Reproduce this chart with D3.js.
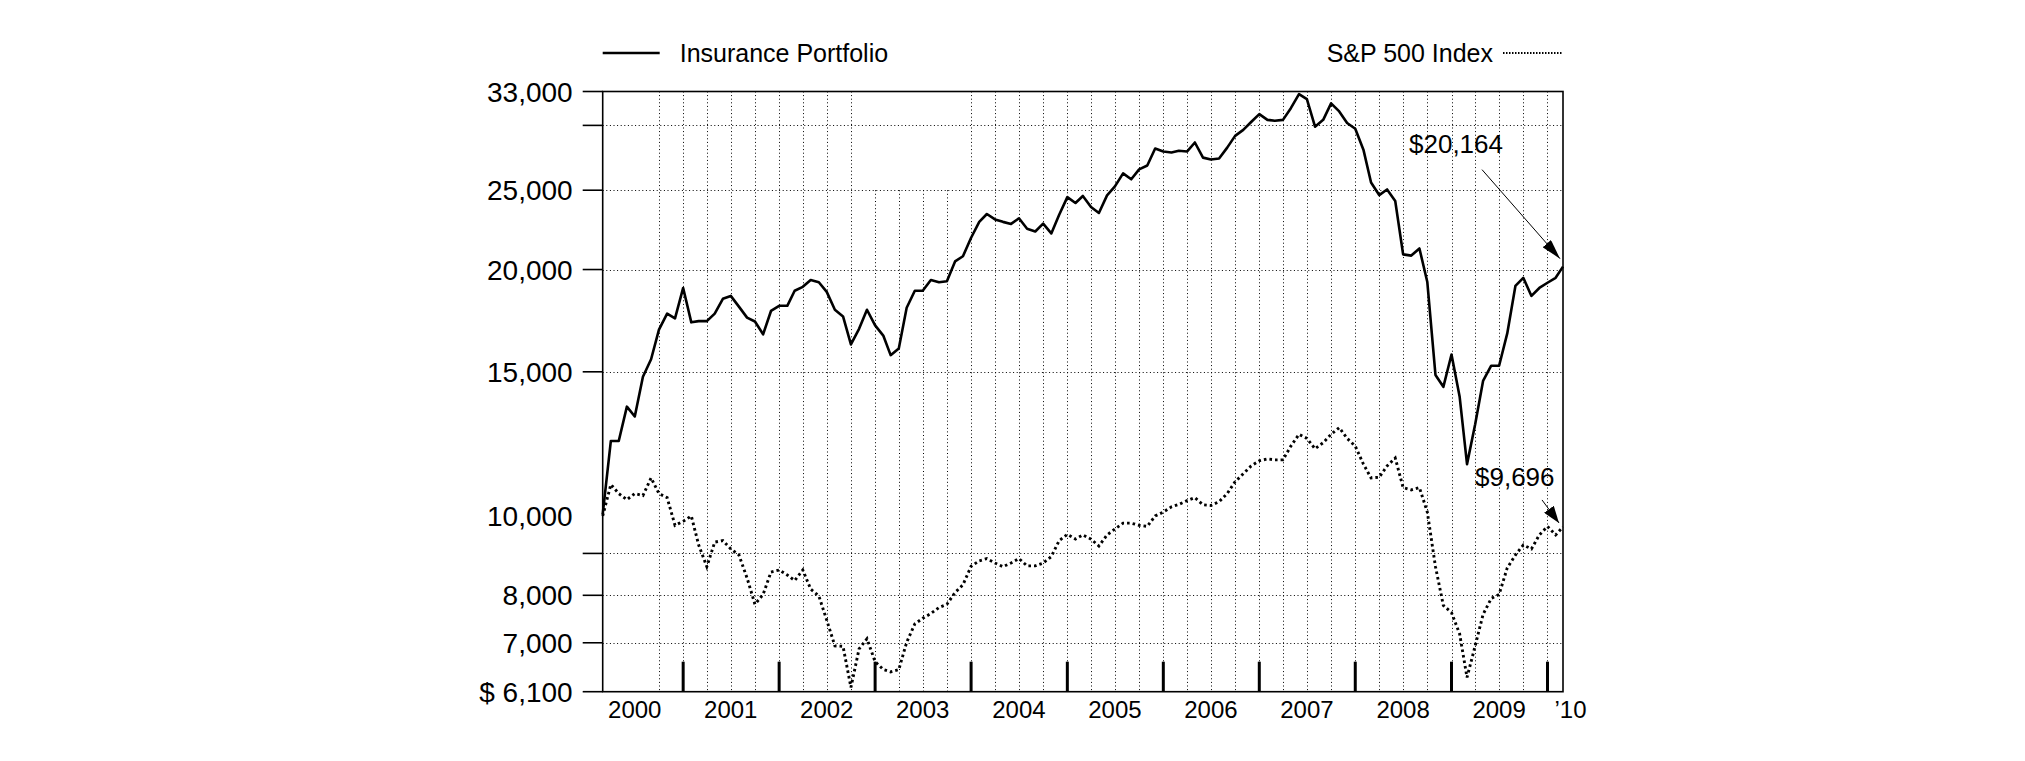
<!DOCTYPE html>
<html><head><meta charset="utf-8">
<script src="https://cdn.jsdelivr.net/npm/d3@7"></script>
<style>
html,body{margin:0;padding:0;background:#fff;}
svg{display:block;}
text{font-family:"Liberation Sans",Arial,Helvetica,sans-serif;fill:#000;}
</style>
</head><body>
<svg id="chart" width="2025" height="761"></svg>
<script>
// ---------------- DATA ----------------
// month-end values, first point = initial $10,000 (end of Feb 2000), last = end of Feb 2010
const startMonth = "2000-03-01";
const insurance = [
 10050,12350,12350,13600,13230,14790,15540,16890,17670,17430,
 18990,17240,17300,17300,17670,18420,18570,18020,17470,17280,
 16670,17800,18060,18060,18840,19050,19420,19300,18780,17860,
 17530,16200,16930,17860,17090,16610,15720,16020,17960,18840,
 18840,19420,19300,19350,20460,20760,21870,22870,23380,23030,
 22870,22740,23100,22430,22260,22760,22140,23330,24520,24120,
 24600,23850,23450,24640,25270,26210,25780,26510,26800,28110,
 27870,27800,27940,27870,28590,27400,27250,27330,28180,29130,
 29620,30290,30970,30470,30400,30470,31490,32760,32300,29890,
 30470,31920,31200,30200,29720,28020,25550,24660,25050,24250,
 20870,20800,21220,19310,14870,14380,15750,13980,11570,12940,
 14620,15260,15260,16710,19100,19540,18570,18990,19270,19540,
 20164];
const sp500 = [
 10000,10925,10650,10470,10650,10590,11130,10650,10530,9740,
 9850,10000,9215,8670,9290,9330,9115,8960,8400,7800,
 8020,8540,8590,8470,8340,8590,8140,7985,7460,6940,
 6930,6175,6880,7080,6637,6493,6450,6490,7010,7380,
 7500,7600,7730,7800,8063,8240,8680,8815,8870,8760,
 8670,8760,8870,8690,8690,8760,8920,9330,9495,9370,
 9480,9370,9190,9480,9640,9800,9800,9740,9710,10000,
 10110,10260,10330,10440,10530,10320,10300,10410,10650,11010,
 11260,11510,11680,11740,11710,11710,12170,12580,12440,12080,
 12290,12580,12820,12440,12170,11570,11130,11150,11510,11770,
 10830,10760,10830,10110,8670,7775,7620,7175,6350,6940,
 7580,7930,8020,8640,8960,9215,9115,9480,9710,9480,
 9696];
const seriesNames = ["Insurance Portfolio", "S&P 500 Index"];
const endValueLabels = ["$20,164", "$9,696"];
const yDomain = [6100, 33000];
const yTickValues = [33000, 30000, 25000, 20000, 15000, 9000, 8000, 7000, 6100];
const yGridValues = [30000, 25000, 20000, 15000, 9000, 8000, 7000];
const yLabelValues = [33000, 25000, 20000, 15000, 10000, 8000, 7000, 6100];
const yearLabels = ["2000","2001","2002","2003","2004","2005","2006","2007","2008","2009"];
const endYearLabel = "\u201910";

// ---------------- LAYOUT ----------------
const L = 602.7, R = 1563, T = 91.5, B = 691.7;
const svg = d3.select("#chart");

const start = new Date(startMonth + "T00:00:00Z");
const dates = insurance.map((_, i) => d3.utcMonth.offset(start, i));
const x = d3.scaleUtc().domain([dates[0], dates[dates.length - 1]]).range([L, R]);
const y = d3.scaleLog().domain(yDomain).range([B, T]);

const gridStyle = g => g.attr("stroke", "#000").attr("stroke-width", 1).attr("stroke-dasharray", "1,2.6");

// horizontal dotted gridlines
svg.append("g").call(gridStyle).selectAll("line").data(yGridValues).join("line")
  .attr("x1", L).attr("x2", R)
  .attr("y1", d => Math.round(y(d)) + 0.5).attr("y2", d => Math.round(y(d)) + 0.5);

// vertical quarterly dotted gridlines
const quarters = d3.utcMonths(new Date(Date.UTC(2000, 9, 1)), new Date(Date.UTC(2010, 0, 2)), 3);
const gapFrom = new Date(Date.UTC(2003, 0, 1)), gapTo = new Date(Date.UTC(2003, 9, 2));
svg.append("g").call(gridStyle).selectAll("line").data(quarters).join("line")
  .attr("x1", d => Math.round(x(d)) + 0.5).attr("x2", d => Math.round(x(d)) + 0.5)
  .attr("y1", d => (d >= gapFrom && d <= gapTo) ? y(25000) : T)
  .attr("y2", B);

// y axis ticks (outward)
svg.append("g").selectAll("line").data(yTickValues).join("line")
  .attr("x1", L - 20).attr("x2", L)
  .attr("y1", d => y(d)).attr("y2", d => y(d))
  .attr("stroke", "#000").attr("stroke-width", 1.6);

// y labels
const fmt = d3.format(",");
svg.append("g").selectAll("text").data(yLabelValues).join("text")
  .attr("x", L - 30).attr("y", d => y(d)).attr("dy", "0.36em")
  .attr("text-anchor", "end").attr("font-size", 28)
  .text(d => d === yDomain[0] ? "$ " + fmt(d) : fmt(d));

// year ticks (thick, inward from bottom)
const yearTicks = d3.utcYears(new Date(Date.UTC(2001, 0, 1)), new Date(Date.UTC(2010, 0, 2)));
svg.append("g").selectAll("line").data(yearTicks).join("line")
  .attr("x1", d => x(d)).attr("x2", d => x(d))
  .attr("y1", B).attr("y2", B - 30)
  .attr("stroke", "#000").attr("stroke-width", 3);

// year labels, centred mid-year
svg.append("g").selectAll("text").data(yearLabels).join("text")
  .attr("x", d => x(new Date(Date.UTC(+d, 6, 1))))
  .attr("y", 718).attr("text-anchor", "middle").attr("font-size", 24)
  .text(d => d);
svg.append("text").attr("x", x(new Date(Date.UTC(2010, 0, 1))) + 7).attr("y", 718)
  .attr("font-size", 24).text(endYearLabel);

// series lines
const line = d3.line().x((d, i) => x(dates[i])).y(d => y(d));
svg.append("path").datum(sp500).attr("d", line)
  .attr("fill", "none").attr("stroke", "#000").attr("stroke-width", 2.9)
  .attr("stroke-dasharray", "2.6,3");
svg.append("path").datum(insurance).attr("d", line)
  .attr("fill", "none").attr("stroke", "#000").attr("stroke-width", 2.6)
  .attr("stroke-linejoin", "round");

// frame
svg.append("rect").attr("x", L).attr("y", T).attr("width", R - L).attr("height", B - T)
  .attr("fill", "none").attr("stroke", "#000").attr("stroke-width", 1.6);

// legend
svg.append("line").attr("x1", L).attr("x2", L + 57).attr("y1", 53).attr("y2", 53)
  .attr("stroke", "#000").attr("stroke-width", 2.4);
svg.append("text").attr("x", L + 77).attr("y", 62).attr("font-size", 25).text(seriesNames[0]);
svg.append("text").attr("x", R - 70).attr("y", 62).attr("text-anchor", "end").attr("font-size", 25).text(seriesNames[1]);
svg.append("line").attr("x1", R - 60).attr("x2", R).attr("y1", 53).attr("y2", 53)
  .attr("stroke", "#000").attr("stroke-width", 2).attr("stroke-dasharray", "1.5,1.5");

// end-value annotations with arrows
const defs = svg.append("defs");
function head(id, w, h) {
  defs.append("marker").attr("id", id).attr("viewBox", `0 0 ${w} ${h}`)
    .attr("refX", w).attr("refY", h / 2).attr("markerWidth", w).attr("markerHeight", h)
    .attr("markerUnits", "userSpaceOnUse").attr("orient", "auto")
    .append("path").attr("d", `M0,0L${w},${h/2}L0,${h}Z`).attr("fill", "#000");
}
head("ah1", 20, 11);
head("ah2", 17, 12);
const lastX = x(dates[dates.length - 1]);
const yIns = y(insurance[insurance.length - 1]);
const ySp = y(sp500[sp500.length - 1]);

svg.append("text").attr("x", lastX - 154).attr("y", yIns - 114).attr("font-size", 26).text(endValueLabels[0]);
svg.append("line").attr("x1", lastX - 81).attr("y1", yIns - 97).attr("x2", lastX - 3).attr("y2", yIns - 8)
  .attr("stroke", "#000").attr("stroke-width", 1).attr("marker-end", "url(#ah1)");

svg.append("text").attr("x", lastX - 88).attr("y", ySp - 41).attr("font-size", 26).text(endValueLabels[1]);
svg.append("line").attr("x1", lastX - 21).attr("y1", ySp - 27).attr("x2", lastX - 4).attr("y2", ySp - 4)
  .attr("stroke", "#000").attr("stroke-width", 1).attr("marker-end", "url(#ah2)");
</script>
</body></html>
